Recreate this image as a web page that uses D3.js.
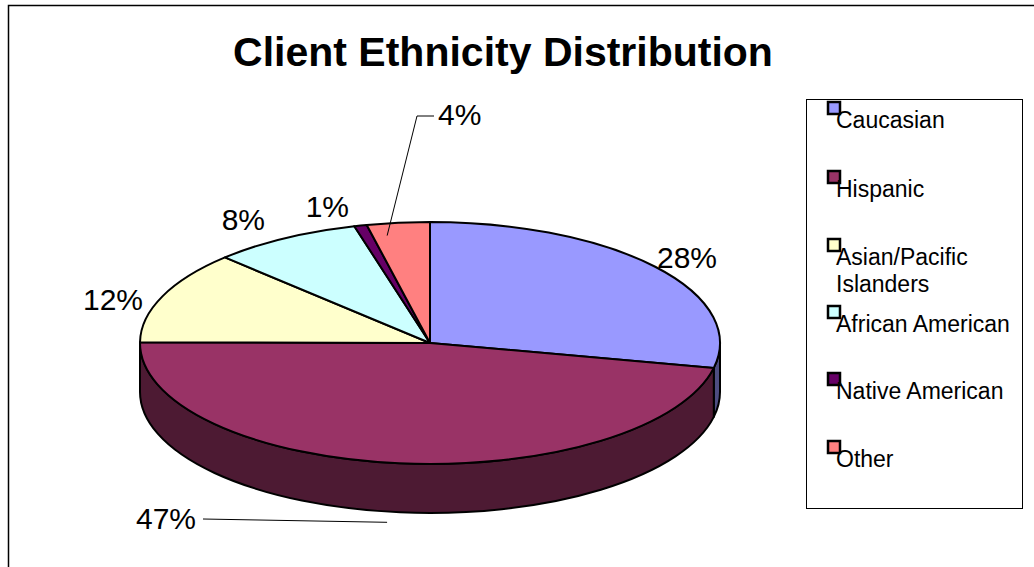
<!DOCTYPE html>
<html>
<head>
<meta charset="utf-8">
<script src="https://cdn.jsdelivr.net/npm/d3@7"></script>
<style>
  html, body { margin: 0; padding: 0; background: #fff; }
  svg { display: block; font-family: "Liberation Sans", Arial, sans-serif; }
</style>
</head>
<body>
<svg id="chart" width="1034" height="567"></svg>
<script>
// ---- Data ----
const categories = ["Caucasian", "Hispanic", "Asian/Pacific Islanders", "African American", "Native American", "Other"];
const legendLines = [["Caucasian"], ["Hispanic"], ["Asian/Pacific", "Islanders"], ["African American"], ["Native American"], ["Other"]];
const values = [28.3, 46.8, 12.4, 8.3, 0.7, 3.5];
const colors = ["#9999FF", "#993366", "#FFFFCC", "#CCFFFF", "#660066", "#FF8080"];
const title = "Client Ethnicity Distribution";

// ---- Layout ----
const W = 1034, H = 567;
const cx = 430, cy = 343, rx = 290, ry = 121, depth = 49;
// label text positions (x, baseline y, anchor)
const labelLayout = [
  [657, 268, "start"],
  [196, 529, "end"],
  [143, 310, "end"],
  [265, 230, "end"],
  [349, 217, "end"],
  [438, 125, "start"]
];
// labels that were dragged away and use leader lines
const leaders = {
  1: { from: [203, 519], onBottom: true },
  5: { from: [434, 116], via: [417, 116], onBottom: false }
};

const svg = d3.select("#chart");

// outer chart border
svg.append("rect").attr("x", 8.5).attr("y", 5.5).attr("width", W).attr("height", H)
  .attr("fill", "none").attr("stroke", "#000").attr("stroke-width", 1.5);

// title
svg.append("text").attr("x", 503).attr("y", 66).attr("text-anchor", "middle")
  .attr("font-size", 41).attr("font-weight", "bold").attr("fill", "#000").text(title);

// pie angles
const pie = d3.pie().sort(null).value(d => d).startAngle(0).endAngle(2 * Math.PI);
const arcsData = pie(values);

const pt = (a, dy = 0, k = 1) => [cx + k * rx * Math.sin(a), cy + dy - k * ry * Math.cos(a)];
const sideColor = c => { const r = d3.rgb(c); return d3.rgb(r.r * 0.5, r.g * 0.5, r.b * 0.5).formatHex(); };

// sides (front half only: angles in [PI/2, 3PI/2])
const gSide = svg.append("g");
arcsData.forEach((d, i) => {
  const a0 = Math.max(d.startAngle, Math.PI / 2), a1 = Math.min(d.endAngle, 3 * Math.PI / 2);
  if (a1 <= a0) return;
  const p0 = pt(a0), p1 = pt(a1), q1 = pt(a1, depth), q0 = pt(a0, depth);
  const large = (a1 - a0) > Math.PI ? 1 : 0;
  const p = d3.path();
  const path = `M${p0[0]},${p0[1]} A${rx},${ry} 0 ${large} 1 ${p1[0]},${p1[1]} L${q1[0]},${q1[1]} A${rx},${ry} 0 ${large} 0 ${q0[0]},${q0[1]} Z`;
  gSide.append("path").attr("d", path).attr("fill", sideColor(colors[i]))
    .attr("stroke", "#000").attr("stroke-width", 2).attr("stroke-linejoin", "round");
});

// top face: circle arcs scaled vertically
const arcGen = d3.arc().innerRadius(0).outerRadius(rx);
const gTop = svg.append("g").attr("transform", `translate(${cx},${cy}) scale(1,${ry / rx})`);
gTop.selectAll("path").data(arcsData).join("path")
  .attr("d", arcGen).attr("fill", (d, i) => colors[i])
  .attr("stroke", "#000").attr("stroke-width", 2).attr("stroke-linejoin", "round")
  .attr("vector-effect", "non-scaling-stroke");

// labels
const fmt = v => Math.round(v) + "%";
arcsData.forEach((d, i) => {
  const [x, y, anchor] = labelLayout[i];
  svg.append("text").attr("x", x).attr("y", y).attr("text-anchor", anchor)
    .attr("font-size", 30).attr("fill", "#000").text(fmt(values[i]));
  const L = leaders[i];
  if (L) {
    const mid = (d.startAngle + d.endAngle) / 2;
    let end;
    if (L.onBottom) {
      const b = pt(mid, depth);
      end = [b[0] - 12, b[1] + 10];
    } else {
      end = pt(mid - (d.endAngle - d.startAngle) * 0.25, 0, 0.9);
    }
    const pts = [L.from];
    if (L.via) pts.push(L.via);
    pts.push(end);
    svg.append("path").attr("d", d3.line()(pts)).attr("fill", "none")
      .attr("stroke", "#000").attr("stroke-width", 1);
  }
});

// legend
const lg = svg.append("g");
lg.append("rect").attr("x", 806.5).attr("y", 99.5).attr("width", 216).attr("height", 409)
  .attr("fill", "#fff").attr("stroke", "#000").attr("stroke-width", 1);
const legendBaselines = [128, 197, 265, 332, 399, 467];
categories.forEach((c, i) => {
  const by = legendBaselines[i];
  lg.append("rect").attr("x", 828).attr("y", by - 26).attr("width", 12).attr("height", 12)
    .attr("fill", colors[i]).attr("stroke", "#000").attr("stroke-width", 2.5);
  const t = lg.append("text").attr("x", 836).attr("y", by).attr("font-size", 23).attr("fill", "#000");
  legendLines[i].forEach((ln, j) => {
    t.append("tspan").attr("x", 836).attr("dy", j === 0 ? 0 : 27).text(ln);
  });
});
</script>
</body>
</html>
